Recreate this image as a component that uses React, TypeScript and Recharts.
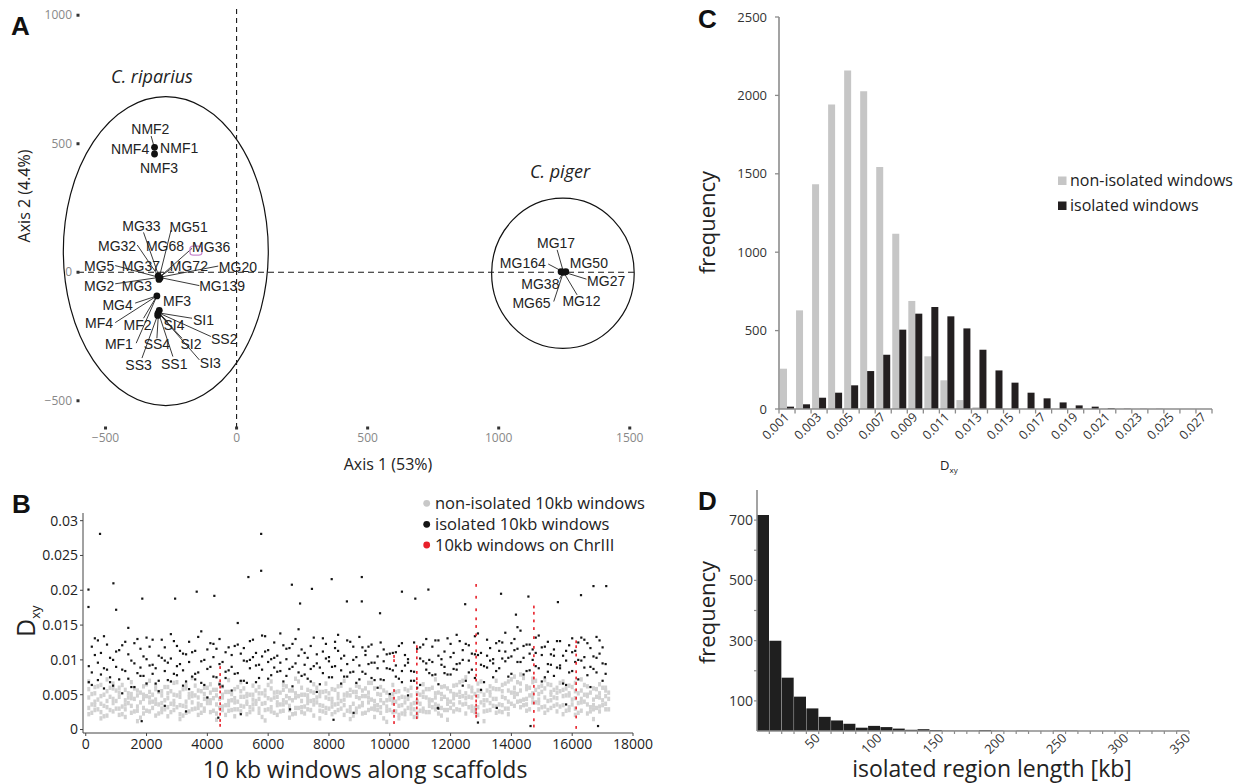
import React from 'react'
import {
  ScatterChart, Scatter, BarChart, Bar, XAxis, YAxis,
  ReferenceLine, ReferenceArea,
} from 'recharts'

const SANS = "'Open Sans', 'DejaVu Sans', sans-serif"
const ARIAL = "'Liberation Sans', Arial, sans-serif"

/* ---------- A: PCA of samples ---------- */
const pcaDots = [
  { x: -313, y: 486 }, { x: -313, y: 460 },
  { x: -299, y: -14 }, { x: -292, y: -22 }, { x: -296, y: -28 },
  { x: -304, y: -92 },
  { x: -295, y: -148 }, { x: -300, y: -160 }, { x: -301, y: -168 },
  { x: 1238, y: 2 }, { x: 1247, y: 0 }, { x: 1256, y: 2 },
]

const pcaGroups: Record<string, [number, number]> = {
  nmf: [-313, 482], mg: [-295, -20], mf: [-304, -92], si: [-298, -158], pig: [1247, 1],
}

const pcaLabels: { name: string; x: number; y: number; lx?: number; ly?: number; to?: string }[] = [
  { name: 'NMF2', x: -329, y: 557, lx: -326, ly: 530, to: 'nmf' },
  { name: 'NMF4', x: -406, y: 478 },
  { name: 'NMF1', x: -219, y: 482 },
  { name: 'NMF3', x: -296, y: 404 },
  { name: 'MG33', x: -363, y: 181, lx: -355, ly: 155, to: 'mg' },
  { name: 'MG51', x: -183, y: 177, lx: -250, ly: 164, to: 'mg' },
  { name: 'MG32', x: -456, y: 103, lx: -379, ly: 106, to: 'mg' },
  { name: 'MG68', x: -273, y: 103 },
  { name: 'MG36', x: -97, y: 97, lx: -170, ly: 93, to: 'mg' },
  { name: 'MG5', x: -524, y: 26, lx: -463, ly: 26, to: 'mg' },
  { name: 'MG37', x: -365, y: 26 },
  { name: 'MG72', x: -182, y: 24, lx: -247, ly: 16, to: 'mg' },
  { name: 'MG20', x: 5, y: 22, lx: -70, ly: 24, to: 'mg' },
  { name: 'MG2', x: -524, y: -52, lx: -463, ly: -45, to: 'mg' },
  { name: 'MG3', x: -380, y: -52 },
  { name: 'MG139', x: -55, y: -53, lx: -142, ly: -52, to: 'mg' },
  { name: 'MG4', x: -454, y: -127, lx: -387, ly: -120, to: 'mf' },
  { name: 'MF3', x: -227, y: -110 },
  { name: 'MF4', x: -525, y: -198, lx: -463, ly: -196, to: 'mf' },
  { name: 'MF2', x: -378, y: -205, lx: -355, ly: -179, to: 'mf' },
  { name: 'SI4', x: -239, y: -205, lx: -261, ly: -193, to: 'si' },
  { name: 'SI1', x: -126, y: -185, lx: -170, ly: -179, to: 'si' },
  { name: 'SS2', x: -47, y: -260, lx: -98, ly: -250, to: 'si' },
  { name: 'MF1', x: -449, y: -279, lx: -383, ly: -276, to: 'mf' },
  { name: 'SS4', x: -304, y: -279, lx: -304, ly: -257, to: 'si' },
  { name: 'SI2', x: -174, y: -279, lx: -208, ly: -257, to: 'si' },
  { name: 'SI3', x: -100, y: -354, lx: -142, ly: -341, to: 'si' },
  { name: 'SS3', x: -374, y: -360, lx: -361, ly: -334, to: 'si' },
  { name: 'SS1', x: -238, y: -356, lx: -243, ly: -328, to: 'si' },
  { name: 'MG17', x: 1219, y: 115, lx: 1223, ly: 87, to: 'pig' },
  { name: 'MG164', x: 1092, y: 37, lx: 1189, ly: 32, to: 'pig' },
  { name: 'MG50', x: 1344, y: 37 },
  { name: 'MG27', x: 1410, y: -34, lx: 1335, ly: -27, to: 'pig' },
  { name: 'MG38', x: 1159, y: -47, lx: 1232, ly: -26, to: 'pig' },
  { name: 'MG65', x: 1125, y: -118, lx: 1210, ly: -114, to: 'pig' },
  { name: 'MG12', x: 1316, y: -112, lx: 1299, ly: -88, to: 'pig' },
]

const speciesEllipses = [
  { name: 'C. riparius', cx: -270, cy: 82, rx: 391, ry: 601 },
  { name: 'C. piger', cx: 1245, cy: -4, rx: 272, ry: 292 },
]
const mg36Marker = [{ x: -155, y: 84 }]

/* ---------- B: Dxy along scaffolds (values in 1e-3) ---------- */
const B_COL_START = 100
const B_COL_STEP = 200
const nonIsolatedCols = [
  [3.1,4.6,5.8,2.2,6.9],[4.0,5.2,2.8,6.1,3.5],[2.5,4.8,6.4,3.7,1.6],[5.5,3.2,4.1,7.2,2.0],[3.8,5.9,2.6,4.4,6.6],
  [4.7,2.1,5.3,3.0,6.0],[2.9,4.2,5.7,1.8,3.6],[5.1,3.4,6.8,2.4,4.5],[3.3,4.9,2.7,5.6,1.2],[4.4,6.2,3.1,5.0,2.3],
  [2.6,3.9,5.4,4.6,7.0],[3.7,5.8,2.0,4.3,6.3],[4.9,3.0,5.5,2.5,3.8],[3.2,4.5,6.1,1.9,5.2],[4.1,2.8,5.0,3.6,6.7],
  [5.3,3.5,2.2,4.7,1.5],[2.4,4.0,5.9,3.3,6.4],[3.9,5.2,2.9,4.8,7.4],[4.6,3.1,5.6,2.1,3.7],[3.0,4.4,6.0,5.1,2.7],
  [4.2,2.5,5.3,3.8,6.5],[3.6,4.9,2.3,5.7,1.4],[5.0,3.3,4.6,2.8,6.2],[2.7,4.1,5.4,3.5,7.1],[4.5,2.9,5.8,3.9,1.9],
  [3.4,5.5,2.6,4.7,6.8],[4.8,3.7,5.1,2.2,4.0],[2.9,4.3,6.3,3.6,5.0],[5.2,3.0,4.4,2.4,6.1],[3.8,5.6,2.8,4.9,1.3],
  [4.3,3.2,5.9,2.6,6.9],[3.5,4.7,2.1,5.4,3.9],[5.7,3.6,4.2,2.7,6.4],[2.8,4.5,5.6,3.4,1.7],[4.6,3.1,5.2,2.3,7.3],
  [3.2,5.0,2.5,4.1,6.0],[4.9,3.8,5.7,2.9,4.4],[3.6,4.2,6.5,2.0,5.3],[5.4,2.7,4.8,3.5,1.6],[3.1,4.6,5.5,2.4,6.6],
  [4.4,3.3,2.2,5.8,3.9],[3.7,5.1,2.8,4.5,6.2],[5.0,3.5,4.3,2.1,7.0],[2.6,4.9,5.7,3.2,1.5],[4.7,3.0,5.4,2.5,6.3],
  [3.5,4.8,2.3,5.6,3.8],[5.3,3.9,4.6,2.8,6.7],[2.9,4.1,5.9,3.4,1.8],[4.2,3.2,2.4,5.0,6.1],[3.3,5.3,2.7,4.2,1.1],
  [2.5,3.8,5.1,4.4,6.4],[3.4,4.5,2.1,5.5,1.6],[4.6,2.7,3.9,2.2,5.8],[2.3,3.6,4.9,3.0,6.0],[3.9,2.4,5.2,1.9,4.1],
  [3.0,4.7,2.6,5.4,6.5],[4.3,3.4,5.8,2.5,4.0],[3.6,5.2,2.9,4.6,7.2],[5.1,3.1,4.4,2.0,6.1],[2.8,4.3,5.9,3.7,1.4],
  [4.5,3.6,6.3,2.6,5.1],[3.9,5.4,2.8,4.7,6.8],[5.2,3.7,4.5,2.3,7.5],[2.7,4.6,6.0,3.3,5.5],[4.8,3.2,5.6,2.1,6.6],
  [3.5,5.0,2.6,4.2,1.2],[4.9,3.8,6.2,2.8,5.4],[3.3,4.4,5.8,2.4,7.0],[5.5,3.5,4.7,6.4,2.5],[4.0,5.6,3.0,6.9,2.2],
  [4.7,6.0,3.4,5.3,7.6],[5.6,4.1,6.6,3.2,7.9],[4.4,5.8,3.6,6.2,2.7],[5.2,3.9,6.8,4.6,7.3],[3.8,5.1,2.9,6.1,4.3],
  [4.6,5.9,3.3,7.1,2.4],[5.4,4.2,6.4,3.1,5.0],[3.6,5.3,2.6,6.0,4.5],[4.8,3.5,5.7,2.2,6.9],[3.2,4.9,6.3,2.8,5.2],
  [4.5,3.0,5.5,6.7,2.1],[3.9,5.6,2.7,4.4,7.2],[5.0,3.6,4.8,2.3,6.2],[2.9,4.3,5.9,3.5,1.5],[4.6,3.3,5.2,2.6,6.5],
  [3.7,4.8,6.0,2.9,5.6],
]
// second pass of light windows, read between the columns above
const nonIsolatedColsMid = [
  [3.6,5.1,2.4],[4.3,2.9,6.2],[5.0,3.4,1.9],[2.8,4.7,6.0],[4.1,5.6,3.0],[3.3,6.4,2.2],[5.2,3.8,4.6],[2.6,4.4,5.9],[3.9,5.3,1.7],[4.8,2.7,6.5],
  [3.1,5.0,4.0],[5.4,2.3,3.6],[4.2,6.1,2.9],[2.5,3.7,5.5],[4.9,3.2,6.8],[3.4,5.8,2.0],[4.6,2.6,5.1],[3.0,4.9,6.3],[5.5,3.5,2.4],[3.8,6.0,4.4],
  [2.7,4.5,5.7],[4.4,3.1,6.6],[3.5,5.4,2.1],[5.1,2.8,4.2],[2.9,4.0,6.1],[4.7,5.9,3.3],[3.2,2.5,5.0],[5.6,4.1,3.7],[3.7,5.2,1.8],[4.5,2.9,6.4],
  [2.4,4.6,5.3],[5.3,3.6,2.6],[3.9,6.2,4.8],[4.2,2.2,5.6],[3.1,4.8,6.9],[5.0,3.3,2.3],[2.8,5.5,4.1],[4.6,3.9,6.0],[3.4,2.6,5.4],[5.2,4.4,3.0],
  [3.6,5.7,2.5],[4.1,3.0,6.3],[2.7,4.9,5.2],[5.4,3.7,2.0],[3.3,6.1,4.5],[4.8,2.4,5.9],[3.0,4.3,6.7],[5.1,3.5,2.8],[3.8,5.6,1.6],[4.3,2.8,4.9],
  [2.6,4.0,5.4],[3.5,2.3,4.7],[4.4,5.6,3.1],[2.9,3.8,1.8],[3.7,5.0,2.7],[4.6,2.5,5.8],[3.2,6.0,4.2],[5.3,3.4,2.3],[2.8,4.7,6.2],[4.0,3.1,5.5],
  [5.0,2.9,6.4],[3.6,4.8,7.0],[4.7,6.2,3.2],[3.1,5.1,2.5],[5.5,3.9,6.9],[4.2,2.7,5.6],[3.4,5.9,4.4],[5.8,3.6,2.6],[4.5,6.6,3.0],[3.7,5.3,7.2],
  [5.1,6.8,4.0],[4.3,7.4,3.5],[6.0,4.9,2.9],[3.9,5.7,7.0],[5.4,3.2,6.3],[4.1,6.5,2.8],[5.7,4.6,3.4],[3.3,5.5,6.7],[4.9,2.7,5.9],[3.6,6.1,4.3],
  [5.2,3.8,2.4],[4.0,6.4,5.0],[3.2,5.3,2.6],[4.7,3.1,5.8],[3.5,6.0,4.2],[4.4,2.9,5.3],
]
const isolatedCols = [
  [8.2,11.9,6.4],[9.6,7.1,12.8],[13.4,8.8,5.9],[7.5,10.3,6.8],[11.2,9.0,17.2],[8.6,12.1,5.2],[10.8,7.3,14.6],[12.4,9.5,6.1],[8.9,11.6,7.7],[10.1,6.6,13.2],
  [9.3,12.9,8.0],[7.0,10.6,5.5],[11.8,8.4,9.9],[6.9,13.7,10.2],[9.1,7.8,12.0],[10.9,6.3,8.5],[12.6,9.7,5.8],[8.0,11.3,7.2],[9.8,6.7,14.1],[11.5,8.7,4.6],
  [7.6,10.4,12.3],[9.4,13.0,6.5],[8.3,11.1,7.4],[10.7,5.6,9.0],[12.2,8.1,15.3],[9.9,7.0,11.7],[8.8,12.7,10.0],[11.0,9.2,6.8],[13.5,8.6,10.5],[9.7,11.4,7.3],
  [10.3,12.5,8.9],[8.4,9.6,13.8],[11.6,7.7,10.1],[9.0,12.3,6.2],[10.6,8.2,14.4],[7.9,11.0,9.3],[12.0,6.9,8.7],[9.5,10.8,5.4],[8.1,13.1,11.2],[10.4,7.5,9.8],
  [11.7,9.1,12.6],[8.5,10.2,6.6],[12.8,9.4,7.6],[10.0,11.9,8.3],[9.2,7.2,13.3],[11.3,8.0,10.7],[7.4,12.2,9.6],[10.5,8.8,6.0],[9.8,11.5,7.1],[8.7,10.9,5.1],
  [11.1,7.6,9.2],[6.8,12.4,8.4],[9.6,10.1,4.9],[12.5,8.3,7.0],[10.2,6.4,11.8],[8.6,13.0,9.5],[11.9,9.7,7.8],[10.6,12.8,6.5],[9.0,11.2,8.1],[12.3,7.9,10.4],
  [9.4,13.6,8.6],[11.4,10.0,6.3],[8.2,12.1,9.9],[10.8,7.4,13.4],[9.3,11.0,5.7],[12.9,8.9,10.6],[10.1,9.5,7.5],[8.8,12.7,11.3],[11.2,9.8,13.9],[10.5,12.4,8.0],
  [9.7,11.6,14.7],[12.0,10.3,7.9],[10.9,8.5,12.2],[9.1,13.2,11.0],[11.8,10.7,6.9],[8.3,12.6,9.4],[10.6,7.7,11.5],[12.7,9.2,8.8],[9.9,11.3,6.4],[11.1,8.4,13.1],
  [10.0,12.5,7.2],[8.9,10.4,12.9],[11.7,9.0,6.1],[10.3,13.3,8.2],[9.5,11.8,7.0],
]
const isolatedColsMid = [
  [9.1,6.8],[10.7,13.1],[7.9,11.0],[12.2,8.6],[6.3,10.0],[11.4,7.2],[8.4,12.6],[9.9,6.1],[13.0,8.1],[7.7,10.5],
  [11.9,9.2],[8.8,6.6],[10.3,12.9],[7.1,9.6],[12.7,8.0],[9.4,11.3],[6.9,10.8],[11.1,7.6],[8.2,13.3],[10.0,6.4],
  [12.4,9.0],[7.5,11.6],[9.7,6.2],[11.8,8.5],[8.0,12.0],[10.9,7.0],[6.7,9.8],[12.9,10.4],[9.3,7.4],[11.2,13.4],
  [7.8,10.1],[10.6,8.3],[12.1,6.9],[8.7,11.7],[9.5,13.0],[11.5,7.7],[7.3,10.3],[13.2,9.1],[8.9,6.5],[10.2,12.3],
  [9.0,7.5],[11.3,13.6],[7.6,10.6],[12.6,8.2],[10.4,6.7],[8.3,11.8],[11.9,9.4],[9.6,7.1],[7.2,12.5],[10.8,8.8],
  [8.5,11.0],[12.0,7.3],[9.2,10.7],[7.0,8.4],[11.6,6.0],[9.8,12.2],[8.1,10.0],[12.8,7.9],[10.1,9.3],[7.9,13.1],
  [11.0,8.7],[9.5,12.7],[12.3,7.0],[8.6,10.9],[10.7,13.8],[9.1,6.8],[11.7,9.9],[8.4,12.4],[12.5,10.2],[10.3,7.6],
  [11.4,13.0],[9.7,14.2],[12.2,8.4],[10.0,11.5],[8.8,13.5],[11.9,7.5],[9.3,10.8],[12.7,8.9],[10.6,6.6],[8.2,12.1],
  [11.3,9.7],[9.9,13.2],[12.4,7.8],[8.7,10.5],[10.9,12.8],[9.4,8.0],
]
const isolatedExtra = [
  [470,28.1],[5770,28.1],[5770,22.8],[5350,21.9],[910,21.0],[8090,21.6],[9080,21.9],[6780,20.8],[9080,18.4],
  [90,20.1],[90,17.6],[1860,18.8],[3650,19.8],[4230,19.2],[7440,20.2],[10400,19.8],[11270,20.1],[12480,18.0],
  [7050,18.1],[2940,18.8],[8590,18.4],[9680,16.7],[10840,18.8],[16700,20.6],[17120,20.6],[14560,19.1],[13660,19.5],
  [16290,19.3],[15530,18.3],[14150,16.5],[1840,1.2],[8150,1.4],[11600,3.0],[8810,2.4],[4360,1.7],[6720,2.9],
  [11580,3.1],[13520,3.1],[16850,0.5],[14630,0.5],[2600,3.4],[5100,2.2],[12900,1.0],[15800,3.6],[3300,2.6],
]
const chrIIIStreaks = [
  { x: 4420, ys: [0.6,1.3,2.2,2.9,3.7,4.6,5.4,6.1,7.0,7.9,8.9] },
  { x: 10140, ys: [1.0,1.9,2.7,3.6,4.5,5.6,9.9,10.5] },
  { x: 10890, ys: [1.7,2.3,3.1,3.8,4.4,5.0,5.9,6.7,7.3,8.2,9.4,10.3,11.2,11.9] },
  { x: 12840, ys: [1.9,2.4,2.9,3.5,4.1,4.8,7.1,7.8,8.6,9.5,10.4,11.3,12.4,13.6,14.8,15.9,17.2,19.0,20.7] },
  { x: 14740, ys: [0.5,1.4,2.6,3.8,5.1,6.2,7.4,8.1,9.3,10.6,11.8,13.2,14.5,15.6,16.7,17.6] },
  { x: 16130, ys: [0.3,1.8,3.1,4.5,5.7,6.6,7.4,8.3,9.5,10.7,11.9,12.6] },
]

/* ---------- C: Dxy histogram ---------- */
const dxyBins = ['0.001','0.002','0.003','0.004','0.005','0.006','0.007','0.008','0.009','0.010','0.011','0.012','0.013','0.014',
  '0.015','0.016','0.017','0.018','0.019','0.020','0.021','0.022','0.023','0.024','0.025','0.026','0.027']
const nonIsolatedCounts = [257,629,1434,1942,2159,2027,1543,1118,689,336,183,57,11,2,0,0,0,0,0,0,2,1,0,0,0,0,0]
const isolatedCounts = [15,30,72,104,151,242,346,506,608,650,591,514,378,246,168,104,68,42,23,15,5,2,1,1,0,0,0]

/* ---------- D: isolated region lengths ---------- */
const regionBinEnds = [10,20,30,40,50,60,70,80,90,100,110,120,130,140,150,160,170,180,190,200,
  210,220,230,240,250,260,270,280,290,300,310,320,330,340,350]
const regionCounts = [717,300,177,114,75,47,35,24,11,17,13,8,4,6,3,1,1,1,3,1,0,1,0,0,1,1,0,0,0,0,0,0,0,0,1]

const colPoints = (cols: number[][], shift: number) =>
  cols.flatMap((col, i) => col.map(v => ({ x: B_COL_START + B_COL_STEP * (i + shift), y: v / 1000 })))

const nonIsolatedPts = [...colPoints(nonIsolatedCols, 0), ...colPoints(nonIsolatedColsMid, 0.5)]
const isolatedPts = [
  ...colPoints(isolatedCols, 0.5),
  ...colPoints(isolatedColsMid, 0),
  ...isolatedExtra.map(([x, v]) => ({ x, y: v / 1000 })),
]
const chrIIIPts = chrIIIStreaks.flatMap(s => s.ys.map(v => ({ x: s.x, y: v / 1000 })))

const dxyRows = dxyBins.map((bin, i) => ({ bin, nonIsolated: nonIsolatedCounts[i], isolated: isolatedCounts[i] }))
const regionRows = regionBinEnds.map((end, i) => ({ end, count: regionCounts[i] }))

const minus = (v: number) => (v < 0 ? '\u2212' + Math.abs(v) : String(v))

const C_W = 556, C_YW = 99, C_MR = 24
const cBand = (C_W - C_YW - C_MR) / dxyBins.length
const D_W = 556, D_YW = 77, D_MR = 47
const dBand = (D_W - D_YW - D_MR) / regionBinEnds.length
const AXIS_GREY = '#8c8c8c'

function ATickX(p: any) {
  return (
    <g>
      <rect x={p.x - 1.5} y={p.y - 1.5} width={3} height={3} fill="#333" />
      <text x={p.x} y={p.y + 14} textAnchor="middle" fontSize={12} fill="#888" fontFamily={SANS}>{minus(p.payload.value)}</text>
    </g>
  )
}
function ATickY(p: any) {
  return (
    <g>
      <rect x={p.x - 1.5} y={p.y - 1.5} width={3} height={3} fill="#333" />
      <text x={p.x - 6} y={p.y} dy="0.35em" textAnchor="end" fontSize={12} fill="#888" fontFamily={SANS}>{minus(p.payload.value)}</text>
    </g>
  )
}
function CTick(p: any) {
  const { x, y, index, payload } = p
  const edge = x + cBand / 2
  return (
    <g>
      {index === 0 && <line x1={x - cBand / 2} x2={x - cBand / 2} y1={y} y2={y + 4.5} stroke={AXIS_GREY} strokeWidth={1.3} />}
      <line x1={edge} x2={edge} y1={y} y2={y + 4.5} stroke={AXIS_GREY} strokeWidth={1.3} />
      {index % 2 === 0 && (
        <text x={x + 3} y={y + 9} transform={`rotate(-45 ${x + 3} ${y + 9})`} textAnchor="end"
          fontSize={12.5} fill="#333" fontFamily={SANS}>{payload.value}</text>
      )}
    </g>
  )
}
function DTick(p: any) {
  const edge = p.x + dBand / 2
  const end = p.payload.value
  return (
    <g>
      <line x1={edge} x2={edge} y1={p.y} y2={p.y + 3} stroke={AXIS_GREY} strokeWidth={1.2} />
      {end % 50 === 0 && (
        <text x={edge + 2} y={p.y + 8} transform={`rotate(-45 ${edge + 2} ${p.y + 8})`} textAnchor="end"
          fontSize={13} fill="#333" fontFamily={SANS}>{end}</text>
      )}
    </g>
  )
}
function DYTick(p: any) {
  const v = p.payload.value
  return (
    <g>
      <line x1={p.x - 3} x2={p.x} y1={p.y} y2={p.y} stroke={AXIS_GREY} strokeWidth={1.2} />
      {(v / 100) % 2 === 1 && (
        <text x={p.x - 4} y={p.y} dy="0.35em" textAnchor="end" fontSize={14} fill="#333" fontFamily={SANS}>{v}</text>
      )}
    </g>
  )
}

const ellipseShape = (p: any) => (
  <ellipse cx={p.x + p.width / 2} cy={p.y + p.height / 2} rx={p.width / 2} ry={p.height / 2}
    fill="none" stroke="#111" strokeWidth={1.2} />
)

export default function App() {
  return (
    <div style={{ position: 'absolute', left: 0, top: 0, width: 1236, height: 784, background: '#fff' }}>
      {/* A */}
      <div style={{ position: 'absolute', left: 0, top: 0 }}>
        <ScatterChart width={660} height={460} margin={{ top: 7, right: 25, bottom: 0, left: 0 }}>
          <XAxis type="number" dataKey="x" domain={[-605, 1520]} ticks={[-500, 0, 500, 1000, 1500]} allowDataOverflow
            axisLine={false} tickLine={false} tickSize={0} tickMargin={0} height={32} interval={0} tick={ATickX} />
          <YAxis type="number" dataKey="y" domain={[-606, 1032]} ticks={[-500, 0, 500, 1000]} allowDataOverflow
            axisLine={false} tickLine={false} tickSize={0} tickMargin={0} width={78} interval={0} tick={ATickY} />
          <ReferenceLine x={0} stroke="#1a1a1a" strokeDasharray="5 4" strokeWidth={1.1} />
          <ReferenceLine y={0} stroke="#1a1a1a" strokeDasharray="6 4" strokeWidth={1.1} />
          {speciesEllipses.map(e => (
            <ReferenceArea key={e.name} x1={e.cx - e.rx} x2={e.cx + e.rx} y1={e.cy - e.ry} y2={e.cy + e.ry}
              ifOverflow="visible" shape={ellipseShape} />
          ))}
          {pcaLabels.filter(l => l.to).map(l => (
            <ReferenceLine key={'s' + l.name} ifOverflow="visible" stroke="#222" strokeWidth={0.9}
              segment={[{ x: l.lx, y: l.ly }, { x: pcaGroups[l.to!][0], y: pcaGroups[l.to!][1] }]} />
          ))}
          <Scatter data={mg36Marker} isAnimationActive={false}
            shape={(p: any) => <rect x={p.cx - 6} y={p.cy - 4.5} width={12} height={9} rx={3} fill="none" stroke="#c98bd0" strokeWidth={1.3} />} />
          <Scatter data={pcaDots} isAnimationActive={false}
            shape={(p: any) => <circle cx={p.cx} cy={p.cy} r={3.4} fill="#111" />} />
          <Scatter data={pcaLabels} isAnimationActive={false}
            shape={(p: any) => (
              <text x={p.cx} y={p.cy} dy="0.36em" textAnchor="middle" fontSize={14} fill="#222" fontFamily={ARIAL}>{p.payload.name}</text>
            )} />
        </ScatterChart>
      </div>

      {/* B */}
      <div style={{ position: 'absolute', left: 0, top: 480 }}>
        <ScatterChart width={660} height={304} margin={{ top: 33, right: 27, bottom: 0, left: 0 }}>
          <XAxis type="number" dataKey="x" domain={[-90, 18000]} allowDataOverflow interval={0}
            ticks={[0, 2000, 4000, 6000, 8000, 10000, 12000, 14000, 16000, 18000]} height={51}
            axisLine={{ stroke: '#444' }} tickLine={{ stroke: '#444' }} tickSize={3} tickMargin={3}
            tick={{ fontSize: 14, fill: '#222', fontFamily: SANS }} />
          <YAxis type="number" dataKey="y" domain={[-0.0005, 0.0311]} allowDataOverflow interval={0}
            ticks={[0, 0.005, 0.01, 0.015, 0.02, 0.025, 0.03]} width={83}
            axisLine={{ stroke: '#444' }} tickLine={{ stroke: '#444' }} tickSize={3} tickMargin={2}
            tick={{ fontSize: 14, fill: '#222', fontFamily: SANS }} />
          <Scatter data={nonIsolatedPts} isAnimationActive={false}
            shape={(p: any) => <rect x={p.cx - 1.5} y={p.cy - 2.2} width={3} height={4.4} fill="#d2d2d2" />} />
          <Scatter data={isolatedPts} isAnimationActive={false}
            shape={(p: any) => <rect x={p.cx - 1.1} y={p.cy - 1.1} width={2.2} height={2.2} fill="#151515" />} />
          <Scatter data={chrIIIPts} isAnimationActive={false}
            shape={(p: any) => <rect x={p.cx - 0.8} y={p.cy - 1.4} width={1.6} height={2.8} fill="#e8202a" />} />
        </ScatterChart>
      </div>

      {/* C */}
      <div style={{ position: 'absolute', left: 680, top: 0 }}>
        <BarChart width={C_W} height={460} data={dxyRows} margin={{ top: 17, right: C_MR, bottom: 0, left: 0 }}
          barCategoryGap={1} barGap={0}>
          <XAxis dataKey="bin" height={51} interval={0} tickLine={false} tickSize={0} tickMargin={0}
            axisLine={{ stroke: AXIS_GREY, strokeWidth: 1.6 }} tick={CTick} />
          <YAxis domain={[0, 2500]} ticks={[0, 500, 1000, 1500, 2000, 2500]} width={C_YW} allowDataOverflow
            axisLine={{ stroke: AXIS_GREY, strokeWidth: 1.6 }} tickLine={{ stroke: AXIS_GREY, strokeWidth: 1.3 }}
            tickSize={4} tickMargin={8} tick={{ fontSize: 13, fill: '#333', fontFamily: SANS }} />
          <Bar dataKey="nonIsolated" fill="#c6c6c6" isAnimationActive={false} />
          <Bar dataKey="isolated" fill="#231f20" isAnimationActive={false} />
        </BarChart>
      </div>

      {/* D */}
      <div style={{ position: 'absolute', left: 680, top: 460 }}>
        <BarChart width={D_W} height={324} data={regionRows} margin={{ top: 30, right: D_MR, bottom: 0, left: 0 }}
          barCategoryGap={0}>
          <XAxis dataKey="end" height={53} interval={0} tickLine={false} tickSize={0} tickMargin={0}
            axisLine={{ stroke: AXIS_GREY, strokeWidth: 1.6 }} tick={DTick} />
          <YAxis domain={[0, 800]} ticks={[100, 200, 300, 400, 500, 600, 700]} width={D_YW} allowDataOverflow
            interval={0} tickLine={false} tickSize={0} tickMargin={0}
            axisLine={{ stroke: AXIS_GREY, strokeWidth: 1.6 }} tick={DYTick} />
          <Bar dataKey="count" fill="#1f1f1f" isAnimationActive={false} />
        </BarChart>
      </div>

      {/* titles, axis captions, legends */}
      <svg width={1236} height={784} style={{ position: 'absolute', left: 0, top: 0, pointerEvents: 'none' }}>
        <g fontFamily={ARIAL} fontWeight="bold" fontSize={26} fill="#111">
          <text x={11} y={35}>A</text>
          <text x={12} y={513}>B</text>
          <text x={698} y={28}>C</text>
          <text x={698} y={510}>D</text>
        </g>
        <g fontFamily={SANS} fill="#222">
          <text x={152} y={83} fontSize={18} fontStyle="italic" textAnchor="middle">C. riparius</text>
          <text x={560} y={178} fontSize={18} fontStyle="italic" textAnchor="middle">C. piger</text>
          <text transform="translate(30 196) rotate(-90)" textAnchor="middle" fontSize={16}>Axis 2 (4.4%)</text>
          <text x={388} y={470} textAnchor="middle" fontSize={16}>Axis 1 (53%)</text>

          <text transform="translate(35 637) rotate(-90)" fontSize={25}>D<tspan fontSize={13} dy={5}>xy</tspan></text>
          <text x={365} y={778} textAnchor="middle" fontSize={23}>10 kb windows along scaffolds</text>
          <circle cx={426.7} cy={503.3} r={3.4} fill="#c8c8c8" />
          <circle cx={426.7} cy={524.3} r={3.4} fill="#151515" />
          <circle cx={426.7} cy={545} r={3.4} fill="#e8202a" />
          <text x={435} y={509} fontSize={16.5}>non-isolated 10kb windows</text>
          <text x={435} y={530} fontSize={16.5}>isolated 10kb windows</text>
          <text x={435} y={551} fontSize={16.5}>10kb windows on ChrIII</text>

          <text transform="translate(715 222.5) rotate(-90)" textAnchor="middle" fontSize={22}>frequency</text>
          <text x={940} y={470} fontSize={13}>D<tspan fontSize={8} dy={3}>xy</tspan></text>
          <rect x={1058} y={176.5} width={8.5} height={8.5} fill="#c6c6c6" />
          <rect x={1058} y={201.5} width={8.5} height={8.5} fill="#231f20" />
          <text x={1070} y={186} fontSize={16}>non-isolated windows</text>
          <text x={1070} y={211} fontSize={16}>isolated windows</text>

          <text transform="translate(715 612.5) rotate(-90)" textAnchor="middle" fontSize={22}>frequency</text>
          <text x={992} y={777} textAnchor="middle" fontSize={23}>isolated region length [kb]</text>
        </g>
      </svg>
    </div>
  )
}
